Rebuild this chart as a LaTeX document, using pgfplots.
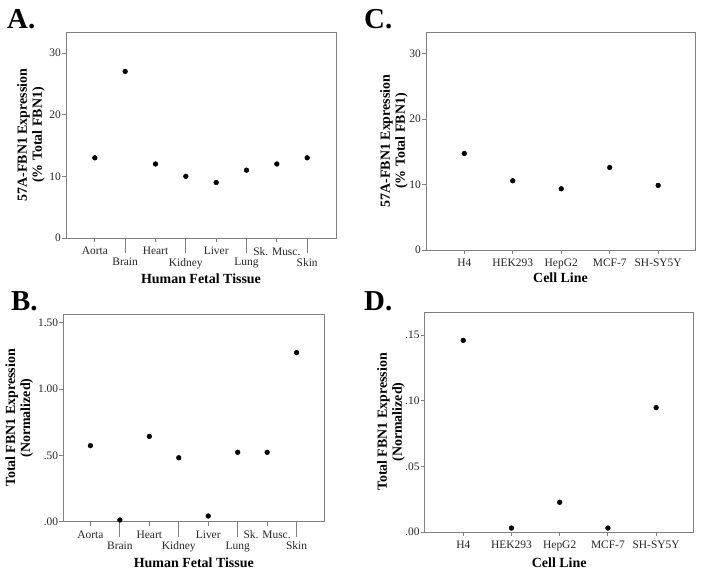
\documentclass[border=0pt]{standalone}
\usepackage{fontspec}
\setmainfont{Liberation Serif}
\usepackage{pgfplots}
\pgfplotsset{compat=1.18}
\definecolor{frame}{HTML}{808080}
\pgfplotsset{
  panel/.style={
    scale only axis,
    anchor=south west,
    clip=false,
    axis line style={draw=frame, line width=0.8pt},
    tick style={draw=frame, line width=0.8pt},
    tick align=outside,
    major tick length=4bp,
    xtick pos=bottom, ytick pos=left,
    tick label style={font=\fontsize{11.5}{13}\selectfont, text=black!85},
    yticklabel style={inner sep=1bp},
    xticklabel style={inner sep=1bp, yshift=-4bp},
    label style={font=\bfseries\fontsize{14}{15}\selectfont, inner sep=0pt},
    ylabel style={align=center, anchor=south},
    xlabel style={anchor=north},
    /pgf/number format/assume math mode=true,
  },
  pt/.style={draw=black, fill=black, only marks, mark=*, mark size=2.4bp, mark options={fill=black, draw=black}},
  tissue/.style={
    xtick={1,3,5,7}, xticklabels={Aorta,Heart,Liver,Sk. Musc.},
    extra x ticks={2,4,6,8}, extra x tick labels={Brain,Kidney,Lung,Skin},
    extra x tick style={major tick length=15bp},
  },
  cells/.style={
    xtick={1,2,3,4,5}, xticklabels={H4,HEK293,HepG2,MCF-7,SH-SY5Y},
  },
}
\begin{document}
\begin{tikzpicture}
\useasboundingbox (0,0) rectangle (704bp,574bp);
% Panel A
\begin{axis}[panel, tissue, at={(66bp,336bp)}, width=270bp, height=206bp,
  xmin=0.05, xmax=8.95, ymin=0, ymax=33.4, ytick={0,10,20,30},
  ylabel={57A-FBN1 Expression\\(\% Total FBN1)},
  ylabel style={at={(axis description cs:-0.078,0.5)}},
  xlabel={Human Fetal Tissue},
  xlabel style={at={(axis description cs:0.5,-0.175)}}]
\addplot[pt] coordinates {(1,13) (2,27) (3,12) (4,10) (5,9) (6,11) (7,12) (8,13)};
\end{axis}
% Panel C
\begin{axis}[panel, cells, at={(426bp,324bp)}, width=269bp, height=218bp,
  xmin=0.21, xmax=5.76, ymin=0, ymax=33.3, ytick={0,10,20,30},
  ylabel={57A-FBN1 Expression\\(\% Total FBN1)},
  ylabel style={at={(axis description cs:-0.067,0.5)}},
  xlabel={Cell Line},
  xlabel style={at={(axis description cs:0.5,-0.105)}}]
\addplot[pt] coordinates {(1,14.75) (2,10.57) (3,9.35) (4,12.6) (5,9.87)};
\end{axis}
% Panel B
\begin{axis}[panel, tissue, at={(63.3bp,52.3bp)}, width=261bp, height=207.4bp,
  xmin=0.08, xmax=8.94, ymin=0, ymax=1.563, ytick={0,0.5,1,1.5},
  yticklabels={.00,.50,1.00,1.50},
  ylabel={Total FBN1 Expression\\(Normalized)},
  ylabel style={at={(axis description cs:-0.115,0.5)}},
  xlabel={Human Fetal Tissue},
  xlabel style={at={(axis description cs:0.5,-0.175)}}]
\addplot[pt] coordinates {(1,0.573) (2,0.013) (3,0.643) (4,0.482) (5,0.043) (6,0.523) (7,0.523) (8,1.274)};
\end{axis}
% Panel D
\begin{axis}[panel, cells, at={(424.7bp,42bp)}, width=269bp, height=220bp,
  xmin=0.2, xmax=5.78, ymin=0, ymax=0.1675, ytick={0,0.05,0.1,0.15},
  yticklabels={.00,.05,.10,.15},
  ylabel={Total FBN1 Expression\\(Normalized)},
  ylabel style={at={(axis description cs:-0.073,0.5)}},
  xlabel={Cell Line},
  xlabel style={at={(axis description cs:0.5,-0.118)}}]
\addplot[pt] coordinates {(1,0.1459) (2,0.003) (3,0.0226) (4,0.003) (5,0.0947)};
\end{axis}
% Panel letters
\node[anchor=base west, inner sep=0pt, font=\bfseries\fontsize{29}{30}\selectfont] at (7bp,545bp) {A.};
\node[anchor=base west, inner sep=0pt, font=\bfseries\fontsize{29}{30}\selectfont] at (364bp,545bp) {C.};
\node[anchor=base west, inner sep=0pt, font=\bfseries\fontsize{29}{30}\selectfont] at (11bp,263bp) {B.};
\node[anchor=base west, inner sep=0pt, font=\bfseries\fontsize{29}{30}\selectfont] at (364bp,263bp) {D.};
\end{tikzpicture}
\end{document}
